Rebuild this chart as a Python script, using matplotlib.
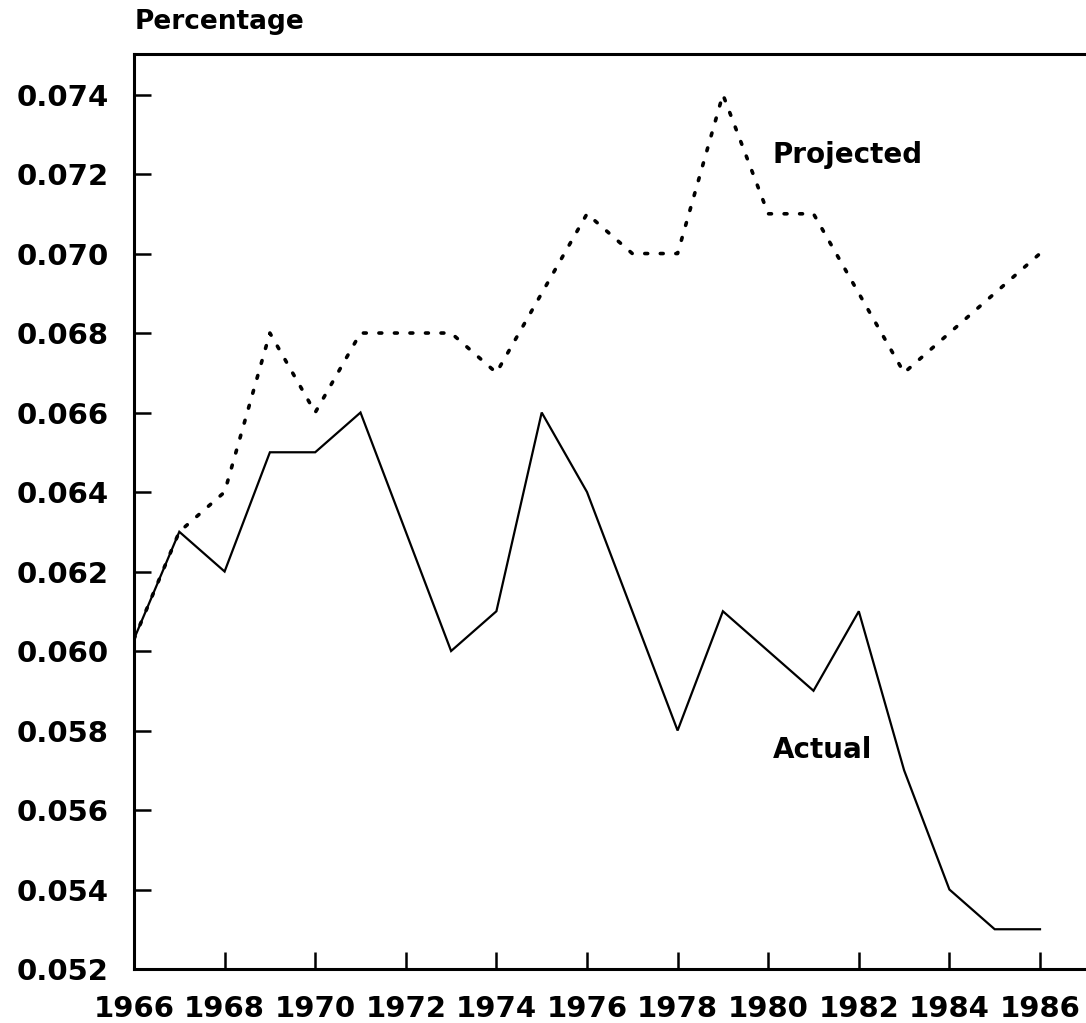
import numpy as np
import matplotlib
matplotlib.use("Agg")
import matplotlib.pyplot as plt

years = list(range(1966, 1987))
actual = [0.0603, 0.063, 0.062, 0.065, 0.065, 0.066, 0.063, 0.060, 0.061, 0.066, 0.064,
          0.061, 0.058, 0.061, 0.060, 0.059, 0.061, 0.057, 0.054, 0.053, 0.053]
projected = [0.0603, 0.063, 0.064, 0.068, 0.066, 0.068, 0.068, 0.068, 0.067, 0.069, 0.071,
             0.070, 0.070, 0.074, 0.071, 0.071, 0.069, 0.067, 0.068, 0.069, 0.070]
xticks = list(range(1966, 1987, 2))
yticks = [0.052, 0.054, 0.056, 0.058, 0.060, 0.062, 0.064, 0.066, 0.068, 0.070, 0.072, 0.074]

plt.rcParams['font.family'] = ['DejaVu Sans']

W, H = 1086, 1023
fig = plt.figure(figsize=(W / 100, H / 100), dpi=100)
ax = fig.add_axes([134 / W, 1 - 969 / H, (W - 134) / W, (969 - 54) / H])

# actual series solid, projection dotted
ax.plot(years, actual, color='black', linewidth=1.6, solid_joinstyle='miter')
ax.plot(years, projected, color='black', linewidth=2.6, linestyle=(0, (0.8, 3.5)),
        dash_capstyle='round')

ax.set_xlim(1966, 1966 + (W - 134) / 45.3)
ax.set_ylim(0.052, 0.07502)
ax.set_xticks(xticks)
ax.set_xticklabels([str(y) for y in xticks])
ax.set_yticks(yticks)
ax.set_yticklabels([f"{v:.3f}" for v in yticks])

for s in ['left', 'bottom', 'top']:
    ax.spines[s].set_linewidth(2.2)
ax.spines['right'].set_visible(False)

ax.tick_params(axis='both', direction='in', length=12, width=1.8, labelsize=21)
ax.tick_params(axis='y', pad=18)
ax.tick_params(axis='x', pad=19)
for lab in ax.get_xticklabels() + ax.get_yticklabels():
    lab.set_fontweight('bold')

ax.text(1980.1, 0.07248, "Projected", fontsize=20, fontweight='bold', va='center', ha='left')
ax.text(1980.1, 0.0575, "Actual", fontsize=20, fontweight='bold', va='center', ha='left')
fig.text(135 / W, 1 - 22 / H, "Percentage", fontsize=19, fontweight='bold', va='center', ha='left')

fig.savefig("out.png", dpi=100)
